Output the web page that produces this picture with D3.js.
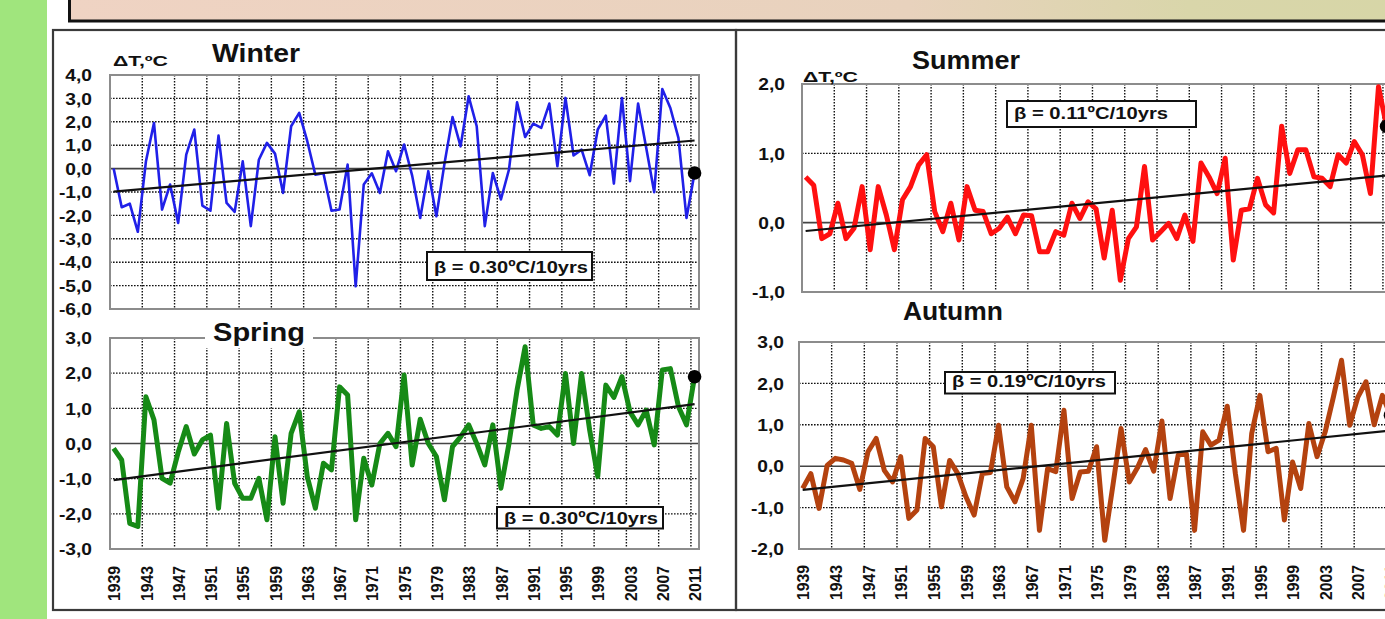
<!DOCTYPE html>
<html><head><meta charset="utf-8">
<script src="https://cdn.jsdelivr.net/npm/d3@7"></script>
<style>html,body{margin:0;padding:0;background:#fff;overflow:hidden}</style>
</head><body>
<svg id="c" width="1385" height="619"></svg>
<script>
// ---------------- data ----------------
const years = [1939,1940,1941,1942,1943,1944,1945,1946,1947,1948,1949,1950,1951,1952,1953,1954,1955,1956,1957,1958,
  1959,1960,1961,1962,1963,1964,1965,1966,1967,1968,1969,1970,1971,1972,1973,1974,1975,1976,1977,1978,
  1979,1980,1981,1982,1983,1984,1985,1986,1987,1988,1989,1990,1991,1992,1993,1994,1995,1996,1997,1998,
  1999,2000,2001,2002,2003,2004,2005,2006,2007,2008,2009,2010,2011];
const yearTicks = [1939,1943,1947,1951,1955,1959,1963,1967,1971,1975,1979,1983,1987,1991,1995,1999,2003,2007,2011];
const gridYears = [1943,1947,1951,1955,1959,1963,1967,1971,1975,1979,1983,1987,1991,1995,1999,2003,2007,2011];

const winter = [0.0,-1.65,-1.5,-2.7,0.3,1.95,-1.75,-0.68,-2.32,0.6,
  1.67,-1.58,-1.8,1.41,-1.47,-1.85,0.31,-2.46,0.38,1.1,
  0.64,-1.04,1.81,2.38,1.17,-0.26,-0.2,-1.8,-1.75,0.17,
  -5.03,-0.68,-0.2,-1.04,0.74,-0.11,1.03,-0.3,-2.11,-0.11,
  -2.04,0.2,2.2,0.95,3.09,1.81,-2.46,-0.19,-1.32,-0.04,
  2.83,1.35,1.92,1.74,2.78,0.1,3.02,0.56,0.81,-0.28,
  1.67,2.26,-0.64,3.02,-0.54,2.78,0.9,-1.01,3.4,2.59,
  1.31,-2.11,-0.19];
const spring = [-0.14,-0.47,-2.27,-2.36,1.33,0.67,-0.99,-1.13,-0.25,0.48,
  -0.3,0.1,0.24,-1.84,0.57,-1.13,-1.56,-1.56,-0.99,-2.17,
  0.19,-1.7,0.29,0.9,-0.94,-1.84,-0.56,-0.75,1.61,1.38,
  -2.17,-0.42,-1.18,0.0,0.29,-0.09,1.95,-0.61,0.69,0.0,
  -0.37,-1.6,-0.09,0.19,0.53,0.0,-0.61,0.53,-1.27,0.0,
  1.52,2.75,0.53,0.43,0.48,0.24,1.99,0.0,1.99,0.38,
  -0.94,1.66,1.31,1.9,0.9,0.53,0.95,-0.04,2.09,2.13,
  1.05,0.53,1.9];
const summer = [0.66,0.54,-0.23,-0.16,0.28,-0.23,-0.08,0.52,-0.39,0.52,
  0.11,-0.39,0.33,0.52,0.83,0.98,0.16,-0.13,0.28,-0.25,
  0.52,0.18,0.16,-0.16,-0.08,0.08,-0.16,0.11,0.1,-0.42,
  -0.42,-0.13,-0.18,0.28,0.06,0.3,0.2,-0.51,0.18,-0.83,
  -0.23,-0.06,0.81,-0.25,-0.13,-0.01,-0.23,0.11,-0.27,0.86,
  0.66,0.42,0.93,-0.54,0.18,0.2,0.64,0.26,0.14,1.39,
  0.71,1.05,1.05,0.66,0.64,0.52,0.98,0.86,1.17,0.98,
  0.42,1.96,1.39];
const autumn = [-0.54,-0.18,-1.02,0.02,0.19,0.15,0.07,-0.56,0.35,0.67,
  -0.1,-0.38,0.23,-1.26,-1.06,0.67,0.47,-0.98,0.14,-0.18,
  -0.74,-1.18,-0.18,-0.15,0.99,-0.5,-0.86,-0.3,0.99,-1.55,
  -0.06,-0.13,1.35,-0.78,-0.14,-0.12,0.47,-1.79,-0.46,0.91,
  -0.38,-0.04,0.4,-0.12,1.09,-0.78,0.27,0.3,-1.55,0.83,
  0.51,0.63,1.45,-0.18,-1.55,0.79,1.71,0.35,0.43,-1.3,
  0.1,-0.54,1.03,0.23,0.83,1.67,2.56,0.99,1.67,2.04,
  1.0,1.71,1.23];

// linear trend values at first and last year
const winterTrend = [-0.98, 1.2];
const springTrend = [-1.04, 1.12];
const summerTrend = [-0.12, 0.68];
const autumnTrend = [-0.57, 0.86];

const winterTicks = [4,3,2,1,0,-1,-2,-3,-4,-5,-6];
const springTicks = [3,2,1,0,-1,-2,-3];
const summerTicks = [2,1,0,-1];
const autumnTicks = [3,2,1,0,-1,-2];

const titles = ["Winter","Spring","Summer","Autumn"];
const betas = ["β = 0.30ºC/10yrs","β = 0.30ºC/10yrs","β = 0.11ºC/10yrs","β = 0.19ºC/10yrs"];
const unitLabel = "ΔT,ºC";

// ---------------- drawing ----------------
const FONT = "'Liberation Sans', Arial, Helvetica, sans-serif";
const svg = d3.select("#c");
const defs = svg.append("defs");
const grad = defs.append("linearGradient").attr("id","bannerGrad").attr("x1","0").attr("x2","1").attr("y1","0").attr("y2","0");
grad.append("stop").attr("offset","0%").attr("stop-color","#efd3c3");
grad.append("stop").attr("offset","60%").attr("stop-color","#e8d2bd");
grad.append("stop").attr("offset","80%").attr("stop-color","#d9d6aa");
grad.append("stop").attr("offset","100%").attr("stop-color","#d6d6a6");

// page decorations
svg.append("rect").attr("x",0).attr("y",0).attr("width",1385).attr("height",619).attr("fill","#fff");
svg.append("rect").attr("x",0).attr("y",0).attr("width",47).attr("height",619).attr("fill","#a0e57d");
svg.append("rect").attr("x",69.5).attr("y",-10).attr("width",1400).attr("height",31)
  .attr("fill","url(#bannerGrad)").attr("stroke","#111").attr("stroke-width",3);
svg.append("rect").attr("x",53).attr("y",30).attr("width",683).attr("height",580)
  .attr("fill","none").attr("stroke","#3a3a3a").attr("stroke-width",2.2);
svg.append("rect").attr("x",736).attr("y",30).attr("width",700).attr("height",580)
  .attr("fill","none").attr("stroke","#3a3a3a").attr("stroke-width",2.2);

function txt(g, x, y, s, size, opts) {
  opts = opts || {};
  const t = g.append("text").attr("x", x).attr("y", y)
    .attr("font-family", FONT).attr("font-weight", "bold").attr("font-size", size)
    .attr("fill", "#111").attr("text-anchor", opts.anchor || "start").text(s);
  if (opts.len) t.attr("textLength", opts.len).attr("lengthAdjust", "spacingAndGlyphs");
  return t;
}

const fmt = v => d3.format(".1f")(v).replace(".", ",").replace("−","-");

const panels = [
  {data: winter, trend: winterTrend, ticks: winterTicks, title: titles[0], beta: betas[0],
   color: "#2020e8", lw: 2.6, xr: [110, 699], yr: [309, 75], dom: [-6, 4], tickX: 92,
   titlePos: [212, 62, 88], titleBg: false, unit: [113, 66], box: [427, 252, 165, 28], textBase: 272.5,
   yearAxis: null},
  {data: spring, trend: springTrend, ticks: springTicks, title: titles[1], beta: betas[1],
   color: "#168a16", lw: 5, xr: [110, 699], yr: [549, 338], dom: [-3, 3], tickX: 92,
   titlePos: [213, 341, 92], titleBg: true, unit: null, box: [497, 507, 166, 21.5], textBase: 523.5,
   yearAxis: 566},
  {data: summer, trend: summerTrend, ticks: summerTicks, title: titles[2], beta: betas[2],
   color: "#ff1010", lw: 5, xr: [802, 1391], yr: [292, 84], dom: [-1, 2], tickX: 785,
   titlePos: [912, 69, 108], titleBg: false, unit: [803, 81.5], box: [1007, 101, 189, 26], textBase: 118.5,
   yearAxis: null},
  {data: autumn, trend: autumnTrend, ticks: autumnTicks, title: titles[3], beta: betas[3],
   color: "#b4420f", lw: 5, xr: [799, 1395], yr: [549, 342], dom: [-2, 3], tickX: 784,
   titlePos: [903, 320, 100], titleBg: false, unit: null, box: [945, 372, 170, 21.5], textBase: 387,
   yearAxis: 565}
];

panels.forEach(p => {
  const g = svg.append("g");
  const x = d3.scaleLinear().domain([1939, 2012]).range(p.xr);
  const xp = d3.scaleLinear().domain([1939 - 0.45, 2012 - 0.45]).range(p.xr); // point positions
  const y = d3.scaleLinear().domain(p.dom).range(p.yr);

  // grid
  const grid = g.append("g");
  grid.selectAll("line.v").data(gridYears).join("line")
    .attr("x1", d => x(d)).attr("x2", d => x(d)).attr("y1", p.yr[1]).attr("y2", p.yr[0])
    .attr("stroke", "#111").attr("stroke-width", 1.4).attr("stroke-dasharray", "1.6,1.4");
  grid.selectAll("line.h").data(p.ticks.filter(v => v !== 0 && v !== p.dom[0] && v !== p.dom[1])).join("line")
    .attr("x1", p.xr[0]).attr("x2", p.xr[1]).attr("y1", d => y(d)).attr("y2", d => y(d))
    .attr("stroke", "#111").attr("stroke-width", 1.4).attr("stroke-dasharray", "1.6,1.4");
  g.append("line").attr("x1", p.xr[0]).attr("x2", p.xr[1]).attr("y1", y(0)).attr("y2", y(0))
    .attr("stroke", "#444").attr("stroke-width", 1.6);
  // frame
  g.append("rect").attr("x", p.xr[0]).attr("y", p.yr[1]).attr("width", p.xr[1] - p.xr[0]).attr("height", p.yr[0] - p.yr[1])
    .attr("fill", "none").attr("stroke", "#8c8c8c").attr("stroke-width", 2);

  // y axis labels
  const ya = g.append("g").attr("transform", `translate(${p.tickX},0)`)
    .call(d3.axisLeft(y).tickValues(p.ticks).tickFormat(fmt).tickSize(0).tickPadding(0));
  ya.select(".domain").remove();
  ya.selectAll("text").attr("x", 0).attr("dy", "0.36em")
    .attr("font-family", FONT).attr("font-weight", "bold").attr("font-size", 16).attr("fill", "#111")
    .attr("transform", "scale(1.2,1)");

  // x axis year labels
  if (p.yearAxis) {
    const xa = g.append("g").attr("transform", `translate(0,${p.yearAxis})`)
      .call(d3.axisBottom(xp).tickValues(yearTicks).tickFormat(d3.format("d")).tickSize(0));
    xa.select(".domain").remove();
    xa.selectAll("text").attr("x", 0).attr("y", 0).attr("dy", "0.36em")
      .attr("text-anchor", "end").attr("transform", "rotate(-90)")
      .attr("font-family", FONT).attr("font-weight", "bold").attr("font-size", 17).attr("fill", "#111")
      .attr("textLength", 35).attr("lengthAdjust", "spacingAndGlyphs");
  }

  // title
  if (p.titleBg) {
    g.append("rect").attr("x", p.titlePos[0] - 8).attr("y", p.titlePos[1] - 20)
      .attr("width", p.titlePos[2] + 16).attr("height", 27).attr("fill", "#fff");
  }
  txt(g, p.titlePos[0], p.titlePos[1], p.title, 25, {len: p.titlePos[2]});
  if (p.unit) txt(g, p.unit[0], p.unit[1], unitLabel, 14, {len: 55});

  // series line
  const line = d3.line().x((d, i) => xp(years[i])).y(d => y(d));
  g.append("path").datum(p.data).attr("d", line).attr("fill", "none")
    .attr("stroke", p.color).attr("stroke-width", p.lw).attr("stroke-linejoin", "round");

  // trend
  g.append("line").attr("x1", xp(years[0])).attr("x2", xp(years[years.length - 1]))
    .attr("y1", y(p.trend[0])).attr("y2", y(p.trend[1]))
    .attr("stroke", "#111").attr("stroke-width", 2.2);

  // last-value dot
  const n = p.data.length - 1;
  g.append("circle").attr("cx", xp(years[n])).attr("cy", y(p.data[n])).attr("r", 6.8).attr("fill", "#000");

  // beta box
  g.append("rect").attr("x", p.box[0]).attr("y", p.box[1]).attr("width", p.box[2]).attr("height", p.box[3])
    .attr("fill", "#fff").attr("stroke", "#111").attr("stroke-width", 2);
  txt(g, p.box[0] + 7, p.textBase, p.beta, 17, {len: 154});
});
</script>
</body></html>
